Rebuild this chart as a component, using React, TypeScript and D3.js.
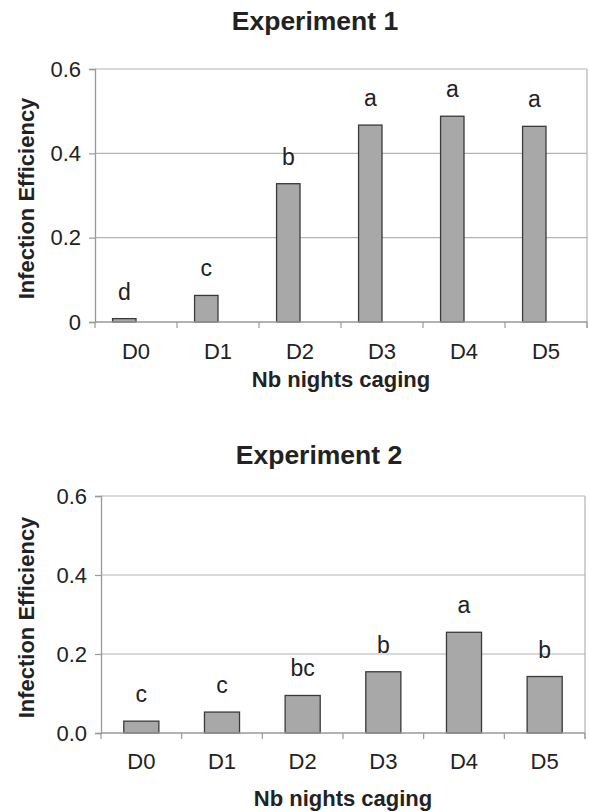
import React, { useEffect, useRef } from 'react';
import * as d3 from 'd3';

const categories = ['D0', 'D1', 'D2', 'D3', 'D4', 'D5'];

const exp1Values = [0.008, 0.063, 0.328, 0.467, 0.488, 0.464];
const exp1Letters = ['d', 'c', 'b', 'a', 'a', 'a'];
const exp1TickLabels = ['0', '0.2', '0.4', '0.6'];

const exp2Values = [0.03, 0.053, 0.095, 0.155, 0.255, 0.143];
const exp2Letters = ['c', 'c', 'bc', 'b', 'a', 'b'];
const exp2TickLabels = ['0.0', '0.2', '0.4', '0.6'];

const tickValues = [0, 0.2, 0.4, 0.6];

const FONT = '"Liberation Sans", Arial, Helvetica, sans-serif';

const charts = [
  {
    title: 'Experiment 1', values: exp1Values, letters: exp1Letters, tickLabels: exp1TickLabels,
    // excel clustered bars with an empty second series -> bar sits left of centre
    series: ['mean', 'blank'], outerPad: 0.75,
    left: 95, right: 587, top: 69, bottom: 322,
    titleX: 315, titleY: 30, xLabelY: 359, xTitleY: 387
  },
  {
    title: 'Experiment 2', values: exp2Values, letters: exp2Letters, tickLabels: exp2TickLabels,
    series: ['mean'], outerPad: 0.65,
    left: 101, right: 585, top: 496, bottom: 733,
    titleX: 319, titleY: 464, xLabelY: 769, xTitleY: 806
  }
];

function drawChart(g: any, c: any) {
  const x = d3.scaleBand().domain(categories).range([c.left, c.right]).padding(0);
  const sub = d3.scaleBand().domain(c.series).range([0, x.bandwidth()])
    .paddingInner(0).paddingOuter(c.outerPad);
  const y = d3.scaleLinear().domain([0, 0.6]).range([c.bottom, c.top]);

  // gridlines
  g.selectAll('.grid')
    .data(tickValues.slice(1))
    .join('line')
    .attr('class', 'grid')
    .attr('x1', c.left).attr('x2', c.right)
    .attr('y1', (d: number) => y(d)).attr('y2', (d: number) => y(d))
    .attr('stroke', '#b3b3b3').attr('stroke-width', 1.2);

  // right border
  g.append('line')
    .attr('x1', c.right).attr('x2', c.right)
    .attr('y1', c.top).attr('y2', c.bottom + 6)
    .attr('stroke', '#b3b3b3').attr('stroke-width', 1.2);

  // y axis
  const yAxis = d3.axisLeft(y).tickValues(tickValues).tickSize(6)
    .tickFormat((d: any, i: number) => c.tickLabels[i]);
  const ya = g.append('g').attr('transform', `translate(${c.left},0)`).call(yAxis);
  ya.select('.domain').attr('stroke', '#999').attr('stroke-width', 1.3);
  ya.selectAll('.tick line').attr('stroke', '#999').attr('stroke-width', 1.2);
  ya.selectAll('.tick text')
    .attr('x', -14)
    .style('font-family', FONT).style('font-size', '22px').attr('fill', '#222');

  // bars
  g.selectAll('.bar')
    .data(c.values)
    .join('rect')
    .attr('class', 'bar')
    .attr('x', (d: number, i: number) => (x(categories[i]) as number) + (sub(c.series[0]) as number))
    .attr('y', (d: number) => y(d))
    .attr('width', sub.bandwidth())
    .attr('height', (d: number) => y(0) - y(d))
    .attr('fill', '#a8a8a8')
    .attr('stroke', '#3a3a3a')
    .attr('stroke-width', 1.3);

  // significance letters
  g.selectAll('.letter')
    .data(c.values)
    .join('text')
    .attr('class', 'letter')
    .attr('x', (d: number, i: number) => (x(categories[i]) as number) + (sub(c.series[0]) as number) + sub.bandwidth() / 2)
    .attr('y', (d: number) => y(d) - 19)
    .attr('text-anchor', 'middle')
    .style('font-family', FONT).style('font-size', '23px').attr('fill', '#222')
    .text((d: number, i: number) => c.letters[i]);

  // x axis line and boundary ticks
  g.append('line')
    .attr('x1', c.left).attr('x2', c.right)
    .attr('y1', c.bottom).attr('y2', c.bottom)
    .attr('stroke', '#999').attr('stroke-width', 1.3);
  const bounds = categories.map(d => x(d) as number).concat([c.right]);
  g.selectAll('.xtick')
    .data(bounds)
    .join('line')
    .attr('class', 'xtick')
    .attr('x1', (d: number) => d).attr('x2', (d: number) => d)
    .attr('y1', c.bottom).attr('y2', c.bottom + 6)
    .attr('stroke', '#999').attr('stroke-width', 1.2);

  g.selectAll('.xlabel')
    .data(categories)
    .join('text')
    .attr('class', 'xlabel')
    .attr('x', (d: string) => (x(d) as number) + x.bandwidth() / 2)
    .attr('y', c.xLabelY)
    .attr('text-anchor', 'middle')
    .style('font-family', FONT).style('font-size', '22px').attr('fill', '#222')
    .text((d: string) => d);

  // titles
  g.append('text')
    .attr('x', c.titleX).attr('y', c.titleY)
    .attr('text-anchor', 'middle')
    .style('font-family', FONT).style('font-size', '26.5px').style('font-weight', 'bold')
    .attr('fill', '#222')
    .text(c.title);

  g.append('text')
    .attr('x', (c.left + c.right) / 2).attr('y', c.xTitleY)
    .attr('text-anchor', 'middle')
    .style('font-family', FONT).style('font-size', '22px').style('font-weight', 'bold')
    .attr('fill', '#222')
    .text('Nb nights caging');

  g.append('text')
    .attr('transform', `translate(34, ${(c.top + c.bottom) / 2 + 3}) rotate(-90)`)
    .attr('text-anchor', 'middle')
    .style('font-family', FONT).style('font-size', '22px').style('font-weight', 'bold')
    .attr('fill', '#222')
    .text('Infection Efficiency');
}

export default function App() {
  const ref = useRef<SVGSVGElement>(null);

  useEffect(() => {
    const svg = d3.select(ref.current);
    svg.selectAll('*').remove();
    charts.forEach(c => drawChart(svg.append('g'), c));
  }, []);

  return (
    <svg
      ref={ref}
      width={589}
      height={812}
      style={{ position: 'absolute', left: 0, top: 0, background: '#fff' }}
    />
  );
}
